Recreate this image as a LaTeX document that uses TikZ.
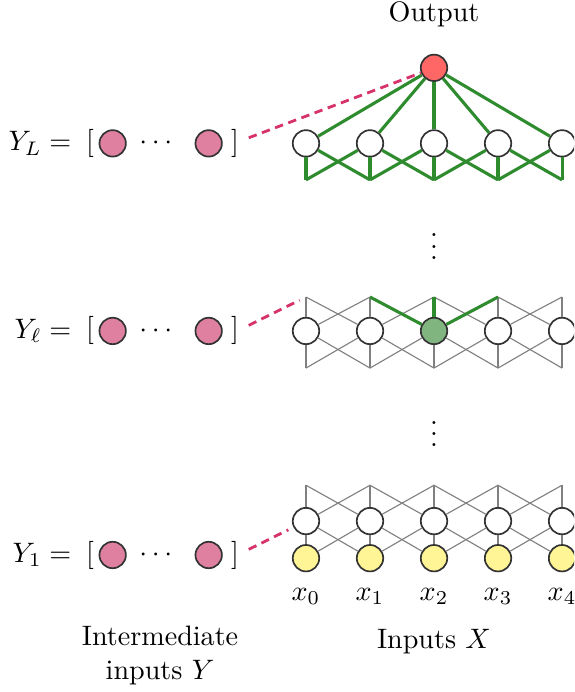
\documentclass[tikz,border=0pt]{standalone}
\usepackage{xcolor}
\usepackage{amsmath}
\usepackage{tikz}
\usetikzlibrary{arrows.meta, positioning}
\definecolor{NNred}{RGB}{255,102,102}
\definecolor{NNgreen}{RGB}{46,139,46}
\definecolor{NNleaf}{RGB}{128,181,128}
\definecolor{NNpink}{RGB}{224,128,160}
\definecolor{NNyellow}{RGB}{255,245,150}
\definecolor{NNlink}{RGB}{214,51,108}

\begin{document}
\begin{tikzpicture}[x=0.8cm, y=0.8cm,
    neuron/.style={circle, draw=black!80, line width=0.6pt, fill=white, minimum size=9.4pt, inner sep=0pt},
    grayedge/.style={black!50, line width=0.4pt},
    greenedge/.style={NNgreen, line width=1.1pt},
    linkdash/.style={NNlink, line width=1pt, dash pattern=on 3pt off 2pt}]
    \useasboundingbox (-4.78,-2.09) rectangle (4.19,8.72);
    \clip (-4.78,-2.09) rectangle (4.19,8.72);
    % Output
    \node[neuron, fill=NNred] (out) at (2,7.66) {};
    \node (outlabel) at (2,8.5) {Output};
    % Last layer L
    \foreach \j in {0,...,4}{
      \node[neuron] (hL\j) at (\j,6.48) {};
      \coordinate (bL\j) at (\j,5.91);
      \draw[greenedge] (out) -- (hL\j);
      \draw[greenedge] (hL\j) -- (bL\j);
    }
    \foreach \a/\b in {0/1,1/2,2/3,3/4}{
      \draw[greenedge] (hL\a) -- (bL\b);
      \draw[greenedge] (hL\b) -- (bL\a);
    }
    \node (vdotsA) at (2,5.0) {$\vdots$};
    % Layer l
    \foreach \j/\c in {0/white,1/white,2/NNleaf,3/white,4/white}{
      \node[neuron, fill=\c] (hM\j) at (\j,3.55) {};
      \coordinate (tM\j) at (\j,4.08);
      \coordinate (bM\j) at (\j,2.97);
      \draw[grayedge] (hM\j) -- (tM\j);
      \draw[grayedge] (hM\j) -- (bM\j);
    }
    \foreach \a/\b in {0/1,1/2,2/3,3/4}{
      \draw[grayedge] (hM\a) -- (tM\b);
      \draw[grayedge] (hM\b) -- (tM\a);
      \draw[grayedge] (hM\a) -- (bM\b);
      \draw[grayedge] (hM\b) -- (bM\a);
    }
    \foreach \j in {1,2,3}
      \draw[greenedge] (hM2) -- (tM\j);
    \node (vdotsB) at (2,2.07) {$\vdots$};
    % First layer and inputs
    \foreach \j in {0,...,4}{
      \node[neuron] (hF\j) at (\j,0.58) {};
      \node[neuron, fill=NNyellow] (x\j) at (\j,0) {};
      \node (xl\j) at (\j,-0.6) {$x_{\j}$};
      \coordinate (tF\j) at (\j,1.14);
      \draw[grayedge] (hF\j) -- (tF\j);
      \draw[grayedge] (hF\j) -- (x\j);
    }
    \foreach \a/\b in {0/1,1/2,2/3,3/4}{
      \draw[grayedge] (hF\a) -- (tF\b);
      \draw[grayedge] (hF\b) -- (tF\a);
      \draw[grayedge] (hF\a) -- (x\b);
      \draw[grayedge] (hF\b) -- (x\a);
    }
    % Intermediate inputs
    \foreach \name/\lab/\y in {L/{$Y_L =$}/6.48, M/{$Y_\ell =$}/3.55, F/{$Y_1 =$}/0.05}{
      \node[anchor=east] (Y\name) at (-3.51,\y) {\lab};
      \node (lb\name) at (-3.375,\y) {$[$};
      \node[neuron, fill=NNpink] (pa\name) at (-3.02,\y) {};
      \node (dots\name) at (-2.31,\y) {$\cdots$};
      \node[neuron, fill=NNpink] (pb\name) at (-1.52,\y) {};
      \node (rb\name) at (-1.11,\y) {$]$};
    }
    \draw[linkdash] ([yshift=2pt]rbL.east) -- (out);
    \draw[linkdash, shorten >=2.5pt] ([yshift=2pt]rbM.east) -- (tM0);
    \draw[linkdash, shorten >=2pt] ([yshift=2pt]rbF.east) -- (hF0);
    % Captions
    \node[align=center] (ycap) at (-2.28,-1.52) {Intermediate\\inputs $Y$};
    \node (xcap) at (2,-1.3) {Inputs $X$};
\end{tikzpicture}
\end{document}
